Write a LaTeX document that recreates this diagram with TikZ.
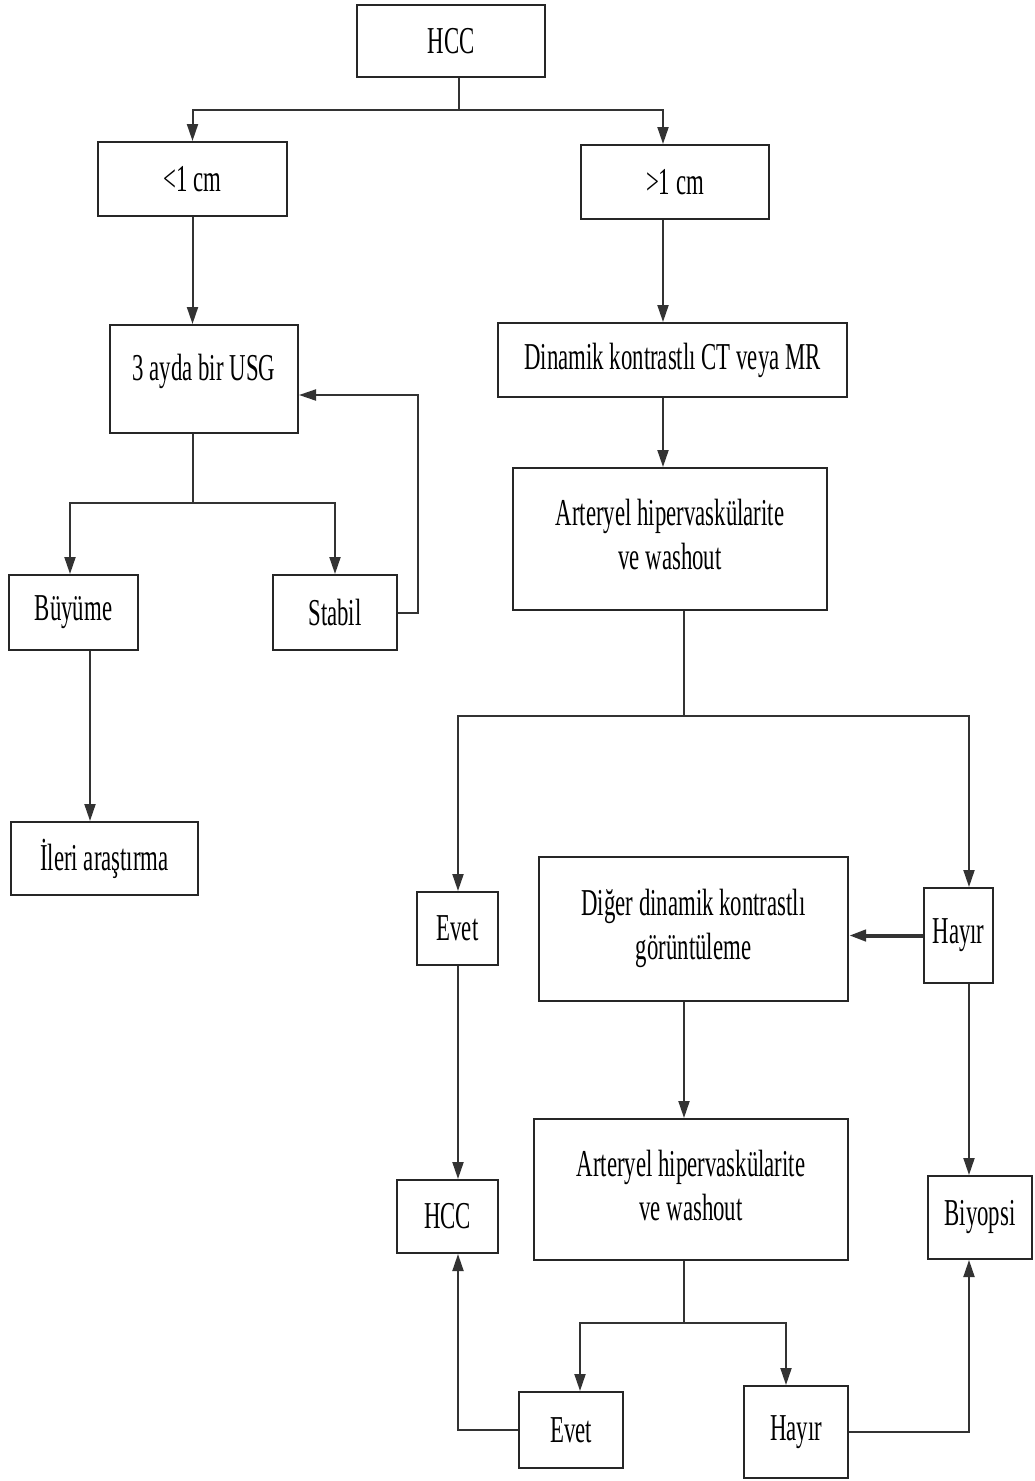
\documentclass[tikz,border=0pt]{standalone}
\usepackage{fontspec}
\setmainfont[FakeStretch=0.6]{Liberation Serif}
\usetikzlibrary{arrows.meta,calc}
\newcommand{\twol}[3]{\raisebox{#1}{\setlength{\tabcolsep}{0pt}\begin{tabular}{c}#2\\#3\end{tabular}}}
\begin{document}
\begin{tikzpicture}[x=1pt,y=-1pt,
  bx/.style={draw=black!85,line width=2pt,rectangle,inner sep=0pt,align=center,
    font=\fontsize{38}{44}\selectfont},
  ln/.style={draw=black!80,line width=2pt},
  arr/.style={ln,-{Triangle[length=17pt,width=11pt]}}]
\useasboundingbox (0,0) rectangle (1034,1481);
% boxes
\node[bx,minimum width=188pt,minimum height=72pt] (hcc) at (451,41) {HCC};
\node[bx,minimum width=189pt,minimum height=74pt] (lt) at (192.5,179) {\raisebox{-2pt}{<1 cm}};
\node[bx,minimum width=188pt,minimum height=74pt] (gt) at (675,182) {>1 cm};
\node[bx,minimum width=188pt,minimum height=108pt] (usg) at (204,379) {\raisebox{24pt}{3 ayda bir USG}};
\node[bx,minimum width=349pt,minimum height=74pt] (dyn) at (672.5,360) {Dinamik kontrastlı CT veya MR};
\node[bx,minimum width=314pt,minimum height=142pt] (art1) at (670,539) {\twol{16pt}{Arteryel hipervaskülarite}{ve washout}};
\node[bx,minimum width=129pt,minimum height=75pt] (buy) at (73.5,612.5) {Büyüme};
\node[bx,minimum width=124pt,minimum height=75pt] (stab) at (335,612.5) {Stabil};
\node[bx,minimum width=187pt,minimum height=73pt] (ileri) at (104.5,858.5) {İleri araştırma};
\node[bx,minimum width=81pt,minimum height=73pt] (evet1) at (457.5,928.5) {Evet};
\node[bx,minimum width=309pt,minimum height=144pt] (diger) at (693.5,929) {\twol{9pt}{Diğer dinamik kontrastlı}{görüntüleme}};
\node[bx,minimum width=69pt,minimum height=95pt] (hayir1) at (958.5,935.5) {\raisebox{4pt}{Hayır}};
\node[bx,minimum width=101pt,minimum height=73pt] (hcc2) at (447.5,1216.5) {HCC};
\node[bx,minimum width=314pt,minimum height=141pt] (art2) at (691,1189.5) {\twol{15pt}{Arteryel hipervaskülarite}{ve washout}};
\node[bx,minimum width=104pt,minimum height=83pt] (biy) at (980,1217.5) {Biyopsi};
\node[bx,minimum width=104pt,minimum height=76pt] (evet2) at (571,1430) {Evet};
\node[bx,minimum width=104pt,minimum height=92pt] (hayir2) at (796,1432) {\raisebox{3pt}{Hayır}};
% guide coordinates
\coordinate (j1) at (459,110);
\coordinate (xg) at (663,0);
\coordinate (j2) at (193,503);
\coordinate (xb) at (70,0);
\coordinate (xi) at (90,0);
\coordinate (xs) at (418,395);
\coordinate (j3) at (684,716);
\coordinate (xh) at (969,0);
\coordinate (xe) at (458,0);
\coordinate (j4) at (684,1323);
\coordinate (xv) at (580,0);
\coordinate (xy) at (786,0);
% connectors
\draw[ln] (j1 |- hcc.south) -- (j1);
\draw[arr] (j1) -| (lt.north);
\draw[arr] (j1) -| (xg |- gt.north);
\draw[arr] (lt.south) -- (lt.south |- usg.north);
\draw[arr] (xg |- gt.south) -- (xg |- dyn.north);
\draw[arr] (xg |- dyn.south) -- (xg |- art1.north);
\draw[ln] (j2 |- usg.south) -- (j2);
\draw[arr] (j2) -| (xb |- buy.north);
\draw[arr] (j2) -| (stab.north);
\draw[arr] (stab.east) -| (xs) -- (xs -| usg.east);
\draw[arr] (xi |- buy.south) -- (xi |- ileri.north);
\draw[ln] (j3 |- art1.south) -- (j3);
\draw[arr] (j3) -| (xe |- evet1.north);
\draw[arr] (j3) -| (xh |- hayir1.north);
\draw[arr,line width=4pt] (hayir1.west) -- (hayir1.west -| diger.east);
\draw[arr] (xe |- evet1.south) -- (xe |- hcc2.north);
\draw[arr] (xh |- hayir1.south) -- (xh |- biy.north);
\draw[arr] (j3 |- diger.south) -- (j3 |- art2.north);
\draw[ln] (j4 |- art2.south) -- (j4);
\draw[arr] (j4) -| (xv |- evet2.north);
\draw[arr] (j4) -| (xy |- hayir2.north);
\draw[arr] (evet2.west) -| (xe |- hcc2.south);
\draw[arr] (hayir2.east) -| (xh |- biy.south);
\end{tikzpicture}
\end{document}
